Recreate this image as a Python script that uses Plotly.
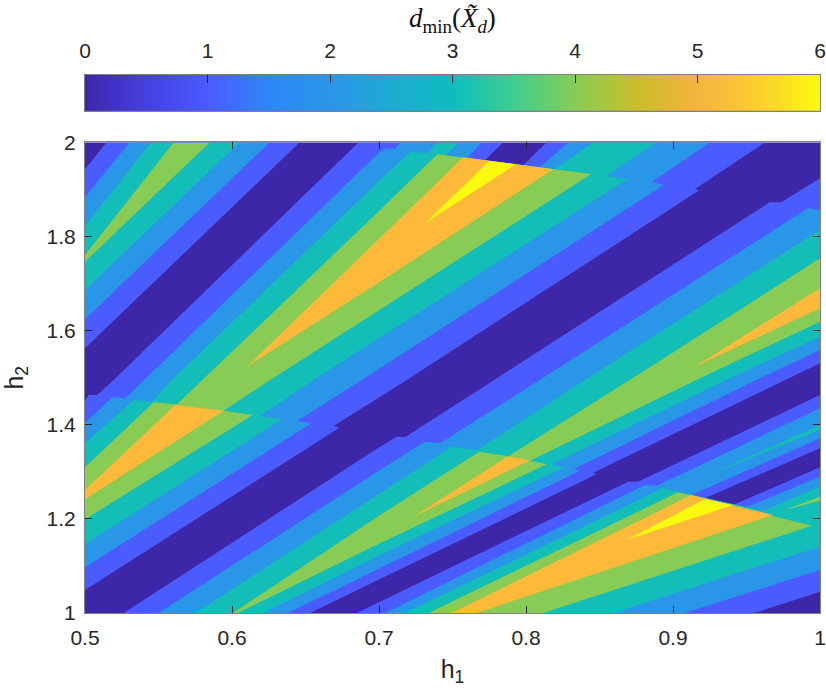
import plotly.graph_objects as go

# h1, h2 outlines of the regions where d_min >= level.
# None separates the polygons of one level.
LEVEL_1_H1 = [0.5, 0.5146, 0.6459, 0.5, None,
              0.686, 0.5195, 0.5082, 0.5026, 0.5, 0.5, 0.6731, 0.669, 0.7189, 0.9181, 0.9147, 0.9623,
              0.814, 0.7981, 0.7721, 0.7845, None,
              1.0, 0.9736, 0.9657, 0.7777, 0.7177, 0.7121, 0.7007, 0.5263, 0.6531, 0.7007, 0.8479, 0.8457,
              0.9759, 1.0, None,
              0.6849, 0.7007, 0.8695, 0.8762, 1.0, 1.0, 0.9215, 0.9408, 1.0, 1.0, 0.9555]
LEVEL_1_H2 = [1.943, 2.0, 2.0, 1.5625, None,
              2.0, 1.4952, 1.4633, 1.4633, 1.4527, 1.0489, 1.3939, 1.3974, 1.4952, 1.899, 1.9004, 2.0,
              2.0, 1.9515, 1.9628, 2.0, None,
              1.9238, 1.8728, 1.8728, 1.4952, 1.3733, 1.3748, 1.3535, 1.0, 1.0, 1.0722, 1.2947, 1.2982,
              1.4952, 1.5306, None,
              1.0, 1.0241, 1.2791, 1.2791, 1.4633, 1.35, 1.2437, 1.2295, 1.3096, 1.0453, 1.0]

LEVEL_2_H1 = [0.5, 0.5302, 0.6255, 0.5, None,
              0.7007, 0.5399, 0.5275, 0.5184, 0.5, 0.5, 0.6538, 0.6446, 0.6883, 0.8937, 0.8853, 0.9249,
              0.8287, 0.8094, 0.7601, 0.7698, 0.7143, 0.7109, 0.7053, None,
              1.0, 0.9917, 0.8094, 0.7415, 0.7313, 0.7007, 0.5501, 0.638, 0.7007, 0.8366, 0.8325, 0.9566, 1.0, None,
              0.7041, 0.8808, 0.8887, 1.0, 1.0, 0.9125, 0.9498, 1.0, 1.0, 0.908]
LEVEL_2_H2 = [1.8834, 2.0, 2.0, 1.6241, None,
              1.9805, 1.4952, 1.4562, 1.4584, 1.4031, 1.097, 1.4031, 1.4088, 1.4952, 1.9097, 1.9153, 2.0,
              2.0, 1.9472, 1.967, 2.0, 2.0, 1.9862, 1.9876, None,
              1.8565, 1.8601, 1.4952, 1.3606, 1.3641, 1.3039, 1.0, 1.0, 1.0949, 1.3025, 1.306, 1.4952, 1.559, None,
              1.0, 1.272, 1.2699, 1.435, 1.3712, 1.2508, 1.2246, 1.2897, 1.0914, 1.0]

LEVEL_3_H1 = [0.5, 0.5449, 0.6051, 0.5, None,
              0.7007, 0.5592, 0.5456, 0.5331, 0.5, 0.5, 0.6339, 0.6192, 0.6554, 0.8688, 0.8547, 0.8887,
              0.8457, 0.8196, 0.7449, 0.7551, 0.7393, 0.7336, 0.7216, None,
              1.0, 0.84, 0.7664, 0.7494, 0.7007, 0.575, 0.6212, 0.7007, 0.8253, 0.8174, 0.9363, 1.0, None,
              0.7177, 0.8928, 0.9612, 1.0, 1.0, 0.8593, None,
              0.9181, 1.0, 1.0]
LEVEL_3_H2 = [1.8225, 2.0, 2.0, 1.6865, None,
              1.9203, 1.4952, 1.4491, 1.4527, 1.3606, 1.1466, 1.4116, 1.4187, 1.4952, 1.9217, 1.9288, 2.0,
              2.0, 1.943, 1.9727, 2.0, 2.0, 1.977, 1.9805, None,
              1.814, 1.4952, 1.3457, 1.3535, 1.2543, 1.0, 1.0, 1.1232, 1.3089, 1.316, 1.4952, 1.5873, None,
              1.0, 1.2649, 1.2175, 1.2685, 1.141, 1.0, None,
              1.2848, 1.3996, 1.3889]

LEVEL_4_H1 = [0.5, 0.5603, 0.5848, 0.5, None,
              0.7007, 0.5796, 0.5626, 0.5467, 0.5, 0.5, 0.6142, 0.5943, 0.626, 0.8445, 0.7397, None,
              0.7007, 0.7682, 0.7879, 0.8706, 1.0, 1.0, 0.9159, 0.8027, 0.814, 0.7007, 0.6038, 0.6006, None,
              0.7336, 0.9034, 0.9947, 0.8117, None,
              0.9759, 1.0, 1.0]
LEVEL_4_H2 = [1.7609, 2.0, 2.0, 1.7467, None,
              1.8565, 1.4952, 1.4435, 1.4477, 1.3096, 1.1991, 1.4208, 1.43, 1.4952, 1.933, 1.9748, None,
              1.2083, 1.3429, 1.333, 1.4952, 1.7538, 1.6192, 1.4952, 1.3237, 1.316, 1.148, 1.0, 1.0, None,
              1.0, 1.2564, 1.1856, 1.0, None,
              1.2189, 1.2472, 1.2387]

LEVEL_5_H1 = [0.6101, 0.7007, 0.7574, 0.8185, 0.7007, None,
              0.5, 0.5614, 0.5943, 0.5, None,
              0.9147, 1.0, 1.0, None,
              0.7494, 0.9125, 0.968, 0.7664, None,
              0.7234, 0.7873, 0.8027]
LEVEL_5_H2 = [1.5235, 1.7963, 1.9685, 1.943, 1.7042, None,
              1.2614, 1.4421, 1.43, 1.2416, None,
              1.5235, 1.69, 1.6475, None,
              1.0, 1.2508, 1.2083, 1.0, None,
              1.2047, 1.3323, 1.3245]

LEVEL_6_H1 = [0.7313, 0.775, 0.7931, None, 0.8683, 0.9215, 0.9408]
LEVEL_6_H2 = [1.8282, 1.9607, 1.9536, None, 1.1551, 1.2416, 1.2295]

BACKGROUND_COLOR = '#3E26A8'
LEVEL_COLORS = ['#4A5CFE', '#2A96E8', '#13BDB8', '#88CC55', '#FDB93A', '#F9FB0E']

# colorbar stops
CBAR_STOPS = [0, 0.5, 1, 1.5, 2, 2.5, 3, 3.5, 4, 4.5, 5, 5.5, 6]
CBAR_COLORS = ['#3E26A8', '#4540E0', '#4A5CFE', '#2E87F8', '#2A96E8', '#1EABD2', '#0DBDBD',
               '#3FCF8E', '#88CC55', '#C9BE2A', '#F5B43E', '#FBCF2C', '#F9FB0E']
CBAR_TICKS = [0, 1, 2, 3, 4, 5, 6]

X_TICKS = [0.5, 0.6, 0.7, 0.8, 0.9, 1]
X_LABELS = ['0.5', '0.6', '0.7', '0.8', '0.9', '1']
Y_TICKS = [1, 1.2, 1.4, 1.6, 1.8, 2]
Y_LABELS = ['1', '1.2', '1.4', '1.6', '1.8', '2']

FONT = 'Liberation Sans'
TEXT_COLOR = '#262626'
FRAME_COLOR = '#808080'

fig = go.Figure()

levels = [
    (LEVEL_1_H1, LEVEL_1_H2),
    (LEVEL_2_H1, LEVEL_2_H2),
    (LEVEL_3_H1, LEVEL_3_H2),
    (LEVEL_4_H1, LEVEL_4_H2),
    (LEVEL_5_H1, LEVEL_5_H2),
    (LEVEL_6_H1, LEVEL_6_H2),
]

# filled contour: each level painted over the one below
for (h1, h2), color in zip(levels, LEVEL_COLORS):
    fig.add_trace(go.Scatter(
        x=h1, y=h2,
        mode='lines',
        fill='toself',
        fillcolor=color,
        line=dict(width=0, color=color),
        hoverinfo='skip',
        showlegend=False,
    ))

# colorbar drawn as its own small axes so the labels can sit on top
fig.add_trace(go.Heatmap(
    x=CBAR_STOPS,
    y=[0, 1],
    z=[CBAR_STOPS, CBAR_STOPS],
    zmin=CBAR_STOPS[0],
    zmax=CBAR_STOPS[-1],
    zsmooth='best',
    colorscale=[[s / CBAR_STOPS[-1], c] for s, c in zip(CBAR_STOPS, CBAR_COLORS)],
    showscale=False,
    hoverinfo='skip',
    xaxis='x2',
    yaxis='y2',
))

fig.add_annotation(
    text='<i>d</i><sub>min</sub>(<i>X̃</i><sub><i>d</i></sub>)',
    xref='paper', yref='paper', x=0.5, y=1.102, yanchor='middle',
    showarrow=False,
    font=dict(family='Liberation Serif', size=27, color='#111111'),
)

fig.update_layout(
    width=826, height=692,
    autosize=False,
    margin=dict(l=84.5, r=5.5, t=75, b=79, autoexpand=False),
    plot_bgcolor=BACKGROUND_COLOR,
    paper_bgcolor='white',
    showlegend=False,
    xaxis=dict(
        range=[0.5, 1],
        tickmode='array', tickvals=X_TICKS, ticktext=X_LABELS,
        ticks='inside', ticklen=7, tickcolor=TEXT_COLOR, tickwidth=1,
        showline=True, linecolor=FRAME_COLOR, linewidth=1, mirror='ticks',
        showgrid=False, zeroline=False,
        ticklabelstandoff=6,
        tickfont=dict(family=FONT, size=21, color=TEXT_COLOR),
        title=dict(text='h<sub>1</sub>', font=dict(family=FONT, size=25, color=TEXT_COLOR), standoff=12),
    ),
    yaxis=dict(
        range=[1, 2],
        domain=[0, 0.87454],
        tickmode='array', tickvals=Y_TICKS, ticktext=Y_LABELS,
        ticks='inside', ticklen=7, tickcolor=TEXT_COLOR, tickwidth=1,
        showline=True, linecolor=FRAME_COLOR, linewidth=1, mirror='ticks',
        showgrid=False, zeroline=False,
        ticklabelstandoff=4,
        tickfont=dict(family=FONT, size=21, color=TEXT_COLOR),
        title=dict(text='h<sub>2</sub>', font=dict(family=FONT, size=25, color=TEXT_COLOR), standoff=16),
    ),
    xaxis2=dict(
        anchor='y2',
        side='top',
        range=[0, 6],
        tickmode='array', tickvals=CBAR_TICKS,
        ticks='inside', ticklen=8, tickcolor=TEXT_COLOR, tickwidth=1,
        showline=True, linecolor=FRAME_COLOR, linewidth=1, mirror=True,
        showgrid=False, zeroline=False,
        ticklabelstandoff=8,
        tickfont=dict(family=FONT, size=21, color=TEXT_COLOR),
    ),
    yaxis2=dict(
        anchor='x2',
        domain=[0.93364, 1],
        range=[0, 1],
        showticklabels=False, ticks='',
        showline=True, linecolor=FRAME_COLOR, linewidth=1, mirror=True,
        showgrid=False, zeroline=False,
    ),
)

fig.write_html(
    "out.html",
    config=dict(displayModeBar=False),
    post_script="document.body.style.margin='0';document.body.style.overflow='hidden';",
)
